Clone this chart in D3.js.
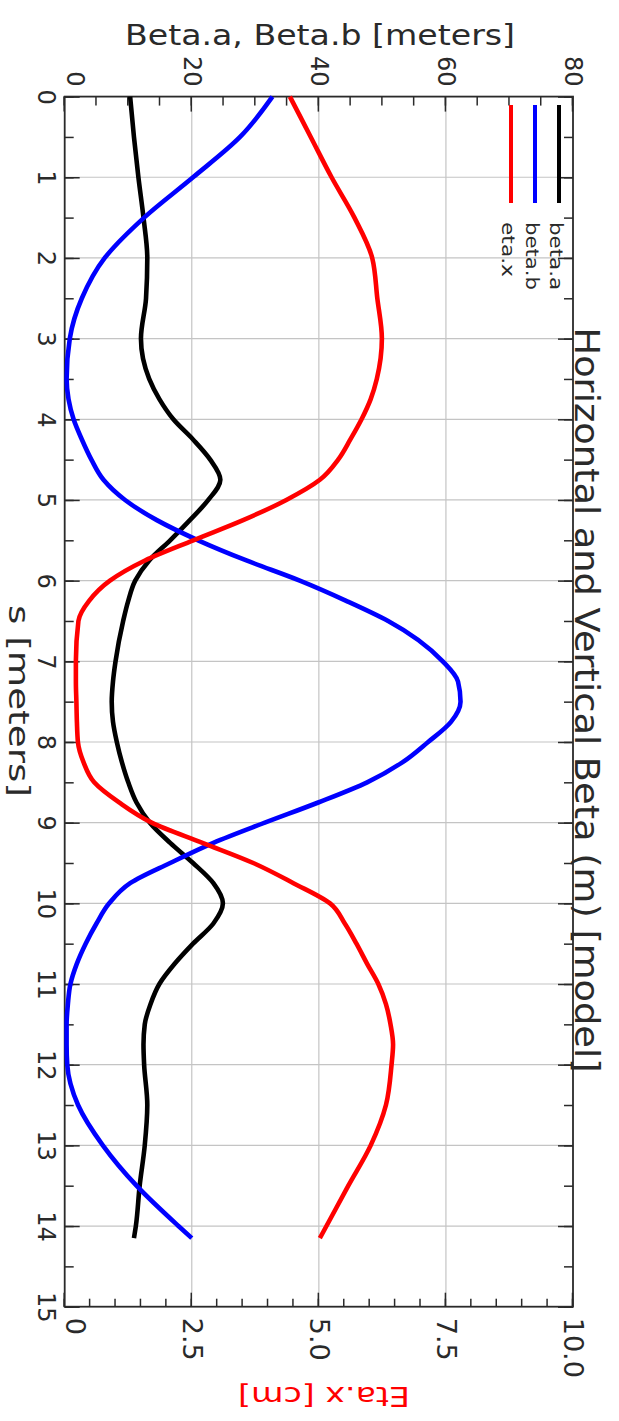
<!DOCTYPE html>
<html>
<head>
<meta charset="utf-8">
<script src="https://cdn.jsdelivr.net/npm/d3@7"></script>
<style>
  body { margin: 0; background: #fff; }
  svg { display: block; }
</style>
</head>
<body>
<svg id="chart" width="619" height="1421"></svg>
<script>
// s positions [m] where the curves were read
const sPos = [0, 0.5, 1, 1.5, 2, 2.5, 3, 3.5, 3.75, 4, 4.25, 4.5, 4.75, 5, 5.25, 5.5, 5.75, 6, 6.25, 6.5,
  7, 7.25, 7.5, 7.75, 8, 8.25, 8.5, 8.75, 9, 9.25, 9.5, 9.75, 10, 10.25, 10.5, 10.75, 11, 11.25, 11.5,
  11.75, 12, 12.5, 13, 13.5, 14, 14.15];

// beta.a [m]
const betaA = [10.3, 10.9, 11.6, 12.4, 13.0, 12.8, 12.0, 13.3, 14.9, 17.1, 20.2, 22.9, 24.5, 22.6, 19.7, 16.6,
  13.3, 11.1, 10.0, 9.2, 8.0, 7.6, 7.4, 7.6, 8.2, 9.0, 10.0, 11.3, 13.4, 16.6, 20.2, 23.4, 24.9, 23.4, 20.2,
  17.3, 14.9, 13.5, 12.6, 12.4, 12.5, 13.0, 12.6, 11.8, 11.2, 10.9];

// beta.b [m]
const betaB = [32.7, 27.6, 20.2, 12.5, 6.3, 2.7, 0.8, 0.3, 0.6, 1.4, 2.7, 4.2, 6.1, 9.5, 14.5, 21.0, 28.6,
  37.0, 44.3, 50.9, 59.5, 61.9, 62.3, 60.8, 57.2, 53.2, 47.6, 39.9, 31.5, 23.4, 16.6, 10.3, 7.0, 5.0, 3.3,
  1.9, 0.9, 0.5, 0.3, 0.3, 0.4, 2.1, 6.0, 11.3, 17.9, 20.0];

// eta.x [cm]
const etaX = [4.43, 4.84, 5.25, 5.70, 6.05, 6.15, 6.24, 6.14, 6.02, 5.84, 5.62, 5.38, 5.02, 4.36, 3.51, 2.53,
  1.58, 0.89, 0.48, 0.27, 0.22, 0.22, 0.23, 0.24, 0.26, 0.37, 0.58, 1.07, 1.71, 2.71, 3.71, 4.50, 5.22, 5.51,
  5.74, 5.95, 6.17, 6.32, 6.41, 6.46, 6.43, 6.32, 6.02, 5.58, 5.15, 5.02];

const sMajor = d3.range(0, 16, 1);
const sMinor = d3.range(0, 15.01, 0.5);
const betaMajor = [0, 20, 40, 60, 80];
const betaMinor = d3.range(0, 81, 5);
const etaMajor = [0, 2.5, 5, 7.5, 10];
const etaMinor = d3.range(0, 10.01, 0.5);

const legendNames = ['beta.a', 'beta.b', 'eta.x'];
const legendColors = ['#000000', '#0000ff', '#ff0000'];

const W = 619;
const FONT = "'DejaVu Sans', sans-serif";
const INK = '#2a2a2a';

const svg = d3.select('#chart');
// the plot is built in its natural orientation, then turned a quarter turn clockwise
const g = svg.append('g').attr('transform', `translate(${W},0) rotate(90)`);

const pLeft = 96.6, pRight = 1306.7, pTop = 46, pBottom = 554.3;

const x = d3.scaleLinear().domain([0, 15]).range([pLeft, pRight]);
const yBeta = d3.scaleLinear().domain([0, 80]).range([pBottom, pTop]);
const yEta = d3.scaleLinear().domain([0, 10]).range([pBottom, pTop]);

// grid
g.append('g')
  .selectAll('line')
  .data(sMajor.filter(d => d > 0 && d < 15))
  .join('line')
  .attr('x1', d => x(d)).attr('x2', d => x(d))
  .attr('y1', pTop).attr('y2', pBottom)
  .attr('stroke', '#c4c4c4').attr('stroke-width', 1.2);

g.append('g')
  .selectAll('line')
  .data(betaMajor.filter(d => d > 0 && d < 80))
  .join('line')
  .attr('x1', pLeft).attr('x2', pRight)
  .attr('y1', d => yBeta(d)).attr('y2', d => yBeta(d))
  .attr('stroke', '#c4c4c4').attr('stroke-width', 1.2);

function styleAxis(sel, size) {
  sel.attr('color', INK).attr('font-family', FONT).attr('font-size', size);
  sel.select('.domain').remove();
  sel.selectAll('.tick line').attr('stroke-width', 1.5);
  sel.selectAll('.tick text').attr('fill', INK);
}

// s axis (page left) and its mirror (page right)
g.append('g').attr('transform', `translate(0,${pBottom})`)
  .call(d3.axisBottom(x).tickValues(sMinor).tickSize(-9).tickFormat(''))
  .call(styleAxis, 24);
g.append('g').attr('transform', `translate(0,${pBottom})`)
  .call(d3.axisBottom(x).tickValues(sMajor).tickSize(-15).tickPadding(10).tickFormat(d3.format('d')))
  .call(styleAxis, 24);
g.append('g').attr('transform', `translate(0,${pTop})`)
  .call(d3.axisTop(x).tickValues(sMinor).tickSize(-9).tickFormat(''))
  .call(styleAxis, 24);
g.append('g').attr('transform', `translate(0,${pTop})`)
  .call(d3.axisTop(x).tickValues(sMajor).tickSize(-15).tickFormat(''))
  .call(styleAxis, 24);

// beta axis (page top)
g.append('g').attr('transform', `translate(${pLeft},0)`)
  .call(d3.axisLeft(yBeta).tickValues(betaMinor).tickSize(-9).tickFormat(''))
  .call(styleAxis, 24);
const betaAxis = g.append('g').attr('transform', `translate(${pLeft},0)`)
  .call(d3.axisLeft(yBeta).tickValues(betaMajor).tickSize(-15).tickPadding(10).tickFormat(d3.format('d')))
  .call(styleAxis, 24);
betaAxis.selectAll('.tick text').attr('y', d => d === 0 ? -10 : 0);

// eta axis (page bottom)
g.append('g').attr('transform', `translate(${pRight},0)`)
  .call(d3.axisRight(yEta).tickValues(etaMinor).tickSize(-8).tickFormat(''))
  .call(styleAxis, 27);
const etaAxis = g.append('g').attr('transform', `translate(${pRight},0)`)
  .call(d3.axisRight(yEta).tickValues(etaMajor).tickSize(-14).tickPadding(11)
    .tickFormat(d => d === 0 ? '0' : d.toFixed(1)))
  .call(styleAxis, 27);
etaAxis.selectAll('.tick text').attr('y', d => d === 0 ? -10 : 0);

// frame
g.append('rect')
  .attr('x', pLeft).attr('y', pTop)
  .attr('width', pRight - pLeft).attr('height', pBottom - pTop)
  .attr('fill', 'none').attr('stroke', INK).attr('stroke-width', 1.8);

// curves
const curves = [
  { vals: betaA, scale: yBeta, color: legendColors[0] },
  { vals: betaB, scale: yBeta, color: legendColors[1] },
  { vals: etaX, scale: yEta, color: legendColors[2] },
];
curves.forEach(c => {
  const line = d3.line()
    .x((d, i) => x(sPos[i]))
    .y(d => c.scale(d))
    .curve(d3.curveMonotoneX);
  g.append('path')
    .attr('d', line(c.vals))
    .attr('fill', 'none')
    .attr('stroke', c.color)
    .attr('stroke-width', 4.6)
    .attr('stroke-linejoin', 'round');
});

// legend
const legendV = [60, 84, 108];
const legendLen = [68, 68, 55];
const legend = g.append('g');
legendNames.forEach((name, i) => {
  legend.append('line')
    .attr('x1', 105).attr('x2', 203)
    .attr('y1', legendV[i]).attr('y2', legendV[i])
    .attr('stroke', legendColors[i]).attr('stroke-width', 4);
  legend.append('text')
    .attr('x', 222).attr('y', legendV[i] + 9)
    .attr('font-family', FONT).attr('font-size', 17).attr('fill', INK)
    .attr('textLength', legendLen[i]).attr('lengthAdjust', 'spacingAndGlyphs')
    .text(name);
});

// titles
g.append('text')
  .attr('x', 700).attr('y', 44)
  .attr('text-anchor', 'middle')
  .attr('font-family', FONT).attr('font-size', 33).attr('fill', INK)
  .attr('textLength', 745).attr('lengthAdjust', 'spacingAndGlyphs')
  .text('Horizontal and Vertical Beta (m) [model]');

g.append('text')
  .attr('x', 701).attr('y', 610)
  .attr('text-anchor', 'middle')
  .attr('font-family', FONT).attr('font-size', 29).attr('fill', INK)
  .attr('textLength', 192).attr('lengthAdjust', 'spacingAndGlyphs')
  .text('s [meters]');

g.append('text')
  .attr('transform', 'translate(45,299) rotate(-90)')
  .attr('text-anchor', 'middle')
  .attr('font-family', FONT).attr('font-size', 28).attr('fill', INK)
  .attr('textLength', 390).attr('lengthAdjust', 'spacingAndGlyphs')
  .text('Beta.a, Beta.b [meters]');

g.append('text')
  .attr('transform', 'translate(1387,295) rotate(90)')
  .attr('text-anchor', 'middle')
  .attr('font-family', FONT).attr('font-size', 27).attr('fill', '#ff0000')
  .attr('textLength', 172).attr('lengthAdjust', 'spacingAndGlyphs')
  .text('Eta.x [cm]');
</script>
</body>
</html>
